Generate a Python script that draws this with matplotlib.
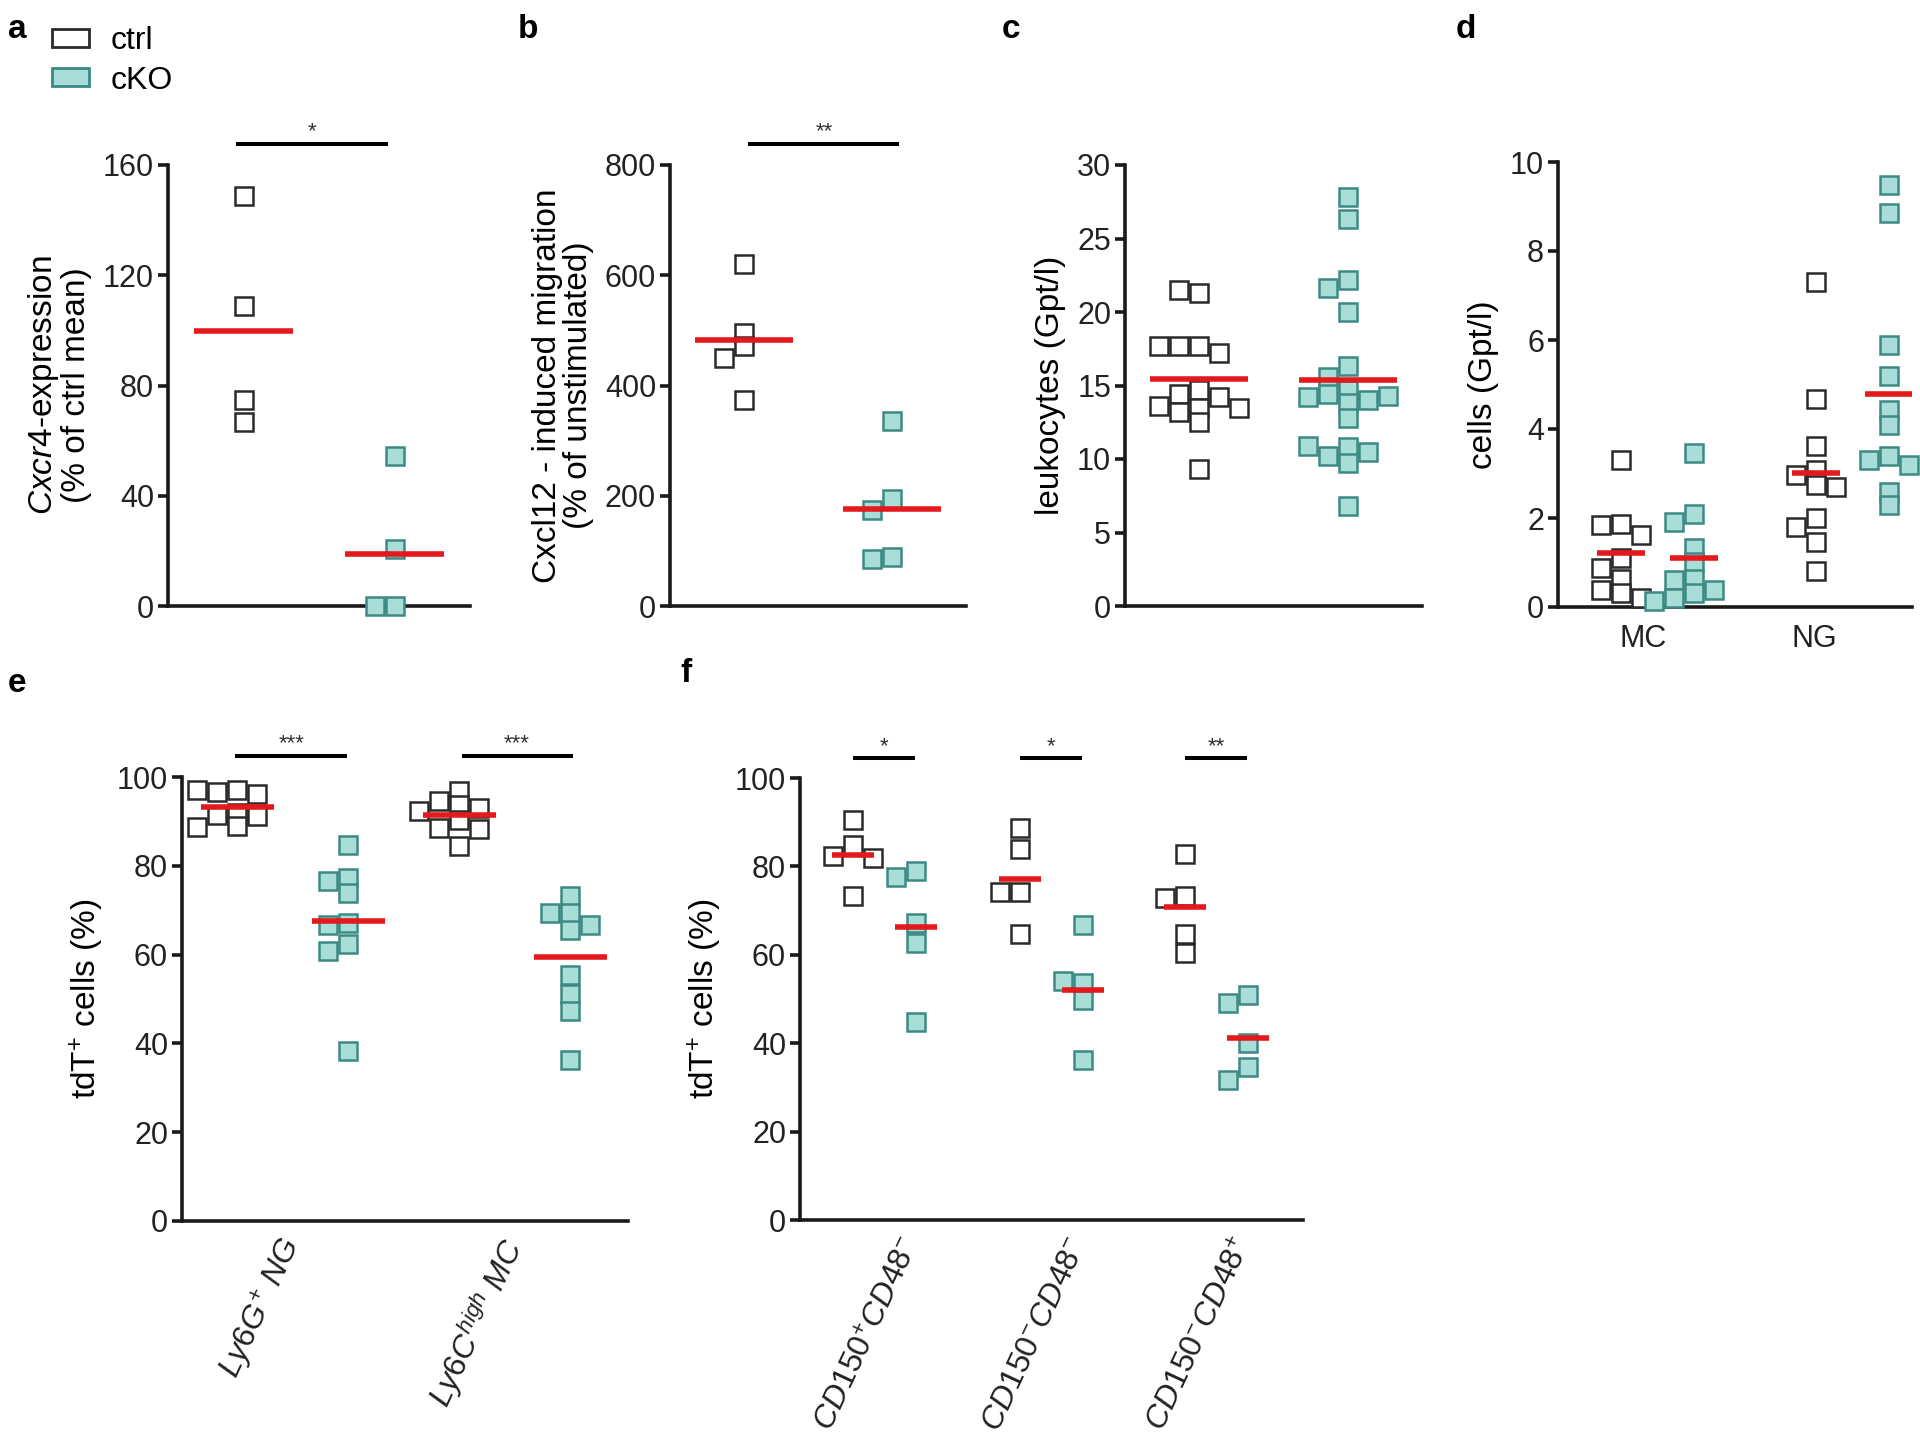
import numpy as np
import matplotlib
matplotlib.use('Agg')
import matplotlib.pyplot as plt
from matplotlib.patches import Patch

plt.rcParams['font.family'] = ['Liberation Sans', 'DejaVu Sans']
plt.rcParams['mathtext.fontset'] = 'custom'
plt.rcParams['mathtext.rm'] = 'Liberation Sans'
plt.rcParams['mathtext.it'] = 'Liberation Sans:italic'
plt.rcParams['mathtext.bf'] = 'Liberation Sans:bold'
plt.rcParams['mathtext.sf'] = 'Liberation Sans'

# ------------------------------------------------------------------ data
series_names = ['ctrl', 'cKO']

a_ctrl = [148.6, 109.0, 74.8, 66.7]
a_cko = [54.4, 20.8, 0.0, 0.0]
a_sig = '*'

b_ctrl = [621, 495, 471, 449, 373]
b_cko = [336, 194, 175, 88, 86]
b_sig = '**'

c_ctrl = [21.3, 21.5, 17.7, 17.7, 17.2, 17.7, 14.7, 14.4, 14.2, 13.5, 13.2, 13.6, 13.5, 12.5, 9.3]
c_cko = [27.8, 26.3, 22.2, 21.6, 20.0, 16.3, 15.6, 14.7, 14.4, 14.0, 14.2, 14.3, 13.8, 12.8,
         10.8, 10.2, 9.75, 10.5, 10.9, 6.8]

d_categories = ['MC', 'NG']
d_mc_ctrl = [3.30, 1.87, 1.84, 1.62, 1.09, 0.87, 0.64, 0.38, 0.31, 0.20]
d_mc_cko = [3.47, 2.10, 1.92, 1.32, 1.02, 0.64, 0.61, 0.38, 0.31, 0.20, 0.13]
d_ng_ctrl = [7.31, 4.67, 3.62, 3.08, 2.97, 2.74, 2.70, 2.00, 1.80, 1.47, 0.82]
d_ng_cko = [9.48, 8.85, 5.89, 5.18, 4.43, 4.09, 3.39, 3.30, 3.19, 2.59, 2.29]

e_categories = [r'$\mathit{Ly6G^{+}\ NG}$', r'$\mathit{Ly6C^{high}\ MC}$']
e_ng_ctrl = [97.0, 96.6, 96.2, 97.0, 92.0, 91.5, 91.2, 88.9, 88.8]
e_ng_cko = [84.6, 77.3, 76.5, 73.9, 67.1, 66.7, 62.5, 60.9, 38.2]
e_mc_ctrl = [96.8, 94.5, 93.8, 93.0, 92.3, 90.4, 88.5, 88.3, 84.4]
e_mc_cko = [73.3, 69.4, 69.4, 66.7, 65.5, 55.5, 51.2, 47.2, 36.3]
e_sig = ['***', '***']

f_categories = [r'$\mathit{CD150^{+}CD48^{-}}$', r'$\mathit{CD150^{-}CD48^{-}}$',
                r'$\mathit{CD150^{-}CD48^{+}}$']
f_ctrl = [[90.6, 84.9, 82.3, 82.0, 73.2],
          [88.7, 83.9, 74.3, 74.3, 64.8],
          [82.9, 73.4, 72.9, 64.8, 60.5]]
f_cko = [[78.9, 77.7, 67.3, 62.6, 44.9],
         [66.8, 53.6, 54.0, 49.8, 36.2],
         [50.9, 49.1, 40.0, 34.6, 31.7]]
f_sig = ['*', '*', '**']

# ------------------------------------------------------------------ style
W, H = 1920, 1454
CTRL_FACE, CTRL_EDGE = 'white', '#2a2a2a'
KO_FACE, KO_EDGE = '#a9ddd7', '#3d8984'
MEAN_C = '#e3191c'
MS, MEW = 13.5, 1.8
TICK_FS, LABEL_FS = 22, 24
AX_C = '#1a1a1a'

fig = plt.figure(figsize=(W / 100, H / 100), dpi=100)


def add_ax(l, r, t, b):
    return fig.add_axes([l / W, 1 - b / H, (r - l) / W, (b - t) / H])


def style(ax, xlim, ylim, yticks):
    ax.set_xlim(*xlim)
    ax.set_ylim(*ylim)
    ax.set_yticks(yticks)
    for s in ['top', 'right']:
        ax.spines[s].set_visible(False)
    for s in ['left', 'bottom']:
        ax.spines[s].set_linewidth(2.6)
        ax.spines[s].set_color(AX_C)
    ax.tick_params(axis='y', length=7, width=2.6, labelsize=TICK_FS, pad=3,
                   colors=AX_C, labelcolor='#222222')
    ax.tick_params(axis='x', length=0, labelsize=TICK_FS, labelcolor='#222222')
    ax.set_xticks([])


def swarm(ax, vals, h_px=13, s_px=20):
    pos = ax.get_position()
    xr, yr = ax.get_xlim(), ax.get_ylim()
    ppx = pos.width * W / (xr[1] - xr[0])
    ppy = pos.height * H / (yr[1] - yr[0])
    h, s = h_px / ppy, s_px / ppx
    placed, offs = [], []
    for v in vals:
        k = 0
        chosen = None
        while chosen is None:
            for c in ([0] if k == 0 else [-k, k]):
                o = c * s
                if all(abs(v - pv) >= h or abs(o - po) >= s * 0.999 for pv, po in placed):
                    chosen = o
                    break
            k += 1
        placed.append((v, chosen))
        offs.append(chosen)
    return np.array(offs)


def draw_group(ax, x, vals, kind, half=0.33):
    vals = np.asarray(vals, dtype=float)
    offs = swarm(ax, vals)
    face, edge = (CTRL_FACE, CTRL_EDGE) if kind == 0 else (KO_FACE, KO_EDGE)
    ax.plot(x + offs, vals, ls='none', marker='s', ms=MS, mfc=face, mec=edge,
            mew=MEW, clip_on=False, zorder=3)
    ax.hlines(vals.mean(), x - half, x + half, color=MEAN_C, lw=4, zorder=4)


def sig_bar(ax, x0, x1, y, text):
    ax.plot([x0, x1], [y, y], color='black', lw=2.9, clip_on=False, solid_capstyle='butt')
    ax.annotate(text, xy=((x0 + x1) / 2, y), xytext=(0, 1), textcoords='offset points',
                ha='center', va='bottom', fontsize=16, color='#333333',
                annotation_clip=False)


def letter(x, y, t):
    fig.text(x / W, 1 - y / H, t, fontsize=24, fontweight='bold', va='center', ha='left')


# ------------------------------------------------------------------ panel a
ax = add_ax(168, 470, 165, 606)
style(ax, (0.5, 2.5), (0, 160), np.arange(0, 161, 40))
draw_group(ax, 1, a_ctrl, 0)
draw_group(ax, 2, a_cko, 1)
sig_bar(ax, 0.95, 1.96, 167.6, a_sig)
ax.set_ylabel('$\\mathit{Cxcr4}$-expression\n(% of ctrl mean)', fontsize=LABEL_FS,
              labelpad=8, linespacing=1.0)

# ------------------------------------------------------------------ panel b
ax = add_ax(670, 966, 165, 606)
style(ax, (0.5, 2.5), (0, 800), np.arange(0, 801, 200))
draw_group(ax, 1, b_ctrl, 0)
draw_group(ax, 2, b_cko, 1)
sig_bar(ax, 1.03, 2.05, 838, b_sig)
ax.set_ylabel('Cxcl12 - induced migration\n(% of unstimulated)', fontsize=LABEL_FS,
              labelpad=8, linespacing=1.0)

# ------------------------------------------------------------------ panel c
ax = add_ax(1125, 1422, 165, 606)
style(ax, (0.5, 2.5), (0, 30), np.arange(0, 31, 5))
draw_group(ax, 1, c_ctrl, 0)
draw_group(ax, 2, c_cko, 1)
ax.set_ylabel('leukocytes (Gpt/l)', fontsize=LABEL_FS, labelpad=8)

# ------------------------------------------------------------------ panel d
ax = add_ax(1558, 1912, 162, 607)
style(ax, (0.13, 5.0), (0, 10), np.arange(0, 11, 2))
d_pos = [1, 2, 3.68, 4.68]
for x, vals, kind in zip(d_pos, [d_mc_ctrl, d_mc_cko, d_ng_ctrl, d_ng_cko], [0, 1, 0, 1]):
    draw_group(ax, x, vals, kind)
ax.set_xticks([1.3, 3.65], d_categories)
ax.tick_params(axis='x', pad=12)
ax.set_ylabel('cells (Gpt/l)', fontsize=LABEL_FS, labelpad=8)

# ------------------------------------------------------------------ panel e
ax = add_ax(182, 628, 777, 1221)
style(ax, (0.5, 4.52), (0, 100), np.arange(0, 101, 20))
for x, vals, kind in zip([1, 2, 3, 4], [e_ng_ctrl, e_ng_cko, e_mc_ctrl, e_mc_cko], [0, 1, 0, 1]):
    draw_group(ax, x, vals, kind)
sig_bar(ax, 0.98, 1.99, 104.8, e_sig[0])
sig_bar(ax, 3.02, 4.02, 104.8, e_sig[1])
ax.set_xticks([1.5, 3.5], e_categories, rotation=65, ha='right', va='center',
              rotation_mode='anchor')
ax.tick_params(axis='x', pad=14, labelsize=23)
ax.set_ylabel('tdT$^{+}$ cells (%)', fontsize=LABEL_FS, labelpad=8)

# ------------------------------------------------------------------ panel f
ax = add_ax(800, 1303, 778, 1220)
style(ax, (0.16, 8.14), (0, 100), np.arange(0, 101, 20))
f_ctrl_pos = [1, 3.65, 6.27]
for i in range(3):
    x = f_ctrl_pos[i]
    draw_group(ax, x, f_ctrl[i], 0)
    draw_group(ax, x + 1, f_cko[i], 1)
    sig_bar(ax, x, x + 0.98, 104.5, f_sig[i])
ax.set_xticks([p + 0.95 for p in f_ctrl_pos], f_categories, rotation=65, ha='right',
              va='center', rotation_mode='anchor')
ax.tick_params(axis='x', pad=14, labelsize=23)
ax.set_ylabel('tdT$^{+}$ cells (%)', fontsize=LABEL_FS, labelpad=8)

# ------------------------------------------------------------------ legend & letters
handles = [Patch(facecolor=CTRL_FACE, edgecolor=CTRL_EDGE, linewidth=2),
           Patch(facecolor=KO_FACE, edgecolor=KO_EDGE, linewidth=2)]
fig.legend(handles, series_names, loc='upper left', bbox_to_anchor=(52 / W, 1 - 26 / H),
           frameon=False, fontsize=23, handlelength=1.15, handleheight=0.5,
           labelspacing=0.3, handletextpad=0.7, borderaxespad=0, borderpad=0)

letter(8, 30, 'a')
letter(518, 30, 'b')
letter(1002, 30, 'c')
letter(1456, 30, 'd')
letter(8, 683, 'e')
letter(680, 673, 'f')

fig.savefig('out.png', dpi=100, facecolor='white')
